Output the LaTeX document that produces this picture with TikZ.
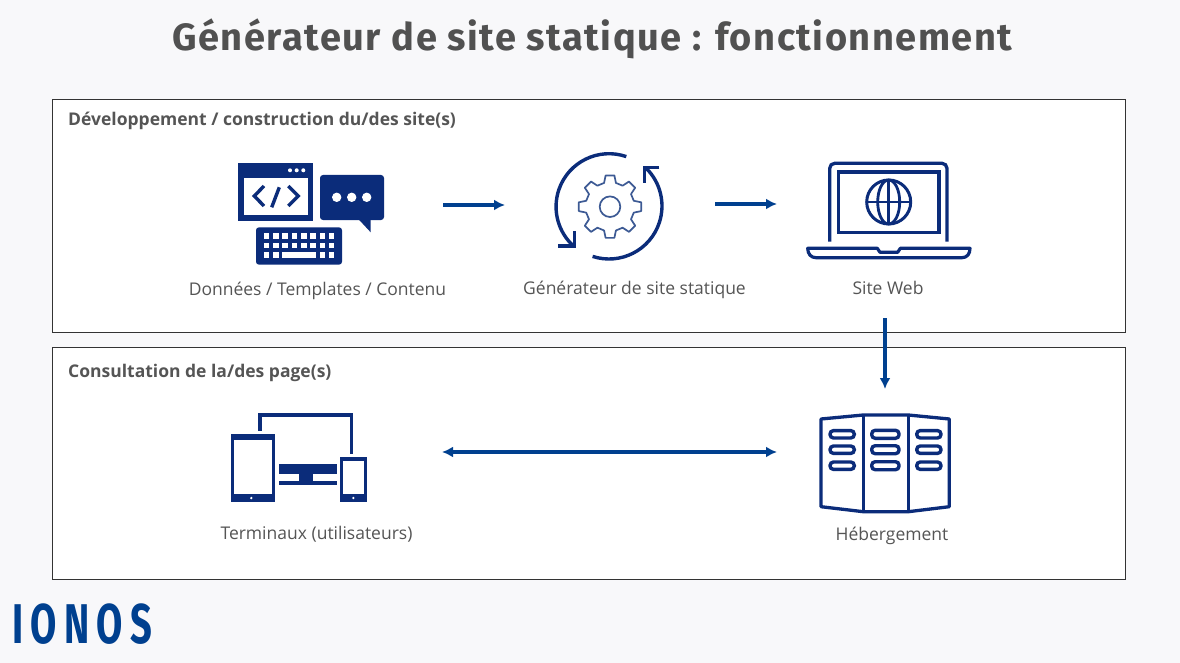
\documentclass[tikz,border=0pt]{standalone}
\usepackage{fontspec}
\setmainfont{Open Sans}
\newfontfamily\titlefont[LetterSpace=4]{Fira Sans}
\newfontfamily\logofont[FakeStretch=0.68,LetterSpace=13]{Fira Sans}
\usetikzlibrary{arrows.meta}
\definecolor{pagebg}{HTML}{F8F8FA}
\definecolor{iconblue}{HTML}{0B2C7A}
\definecolor{gearblue}{HTML}{3D5A94}
\definecolor{flowblue}{HTML}{00408F}
\definecolor{textgray}{HTML}{555555}

\begin{document}
\begin{tikzpicture}[x=1pt, y=-1pt,
  panel/.style={draw=black!80, line width=.8pt, fill=white},
  flow/.style={draw=flowblue, line width=3.3pt, >={Latex[length=11pt,width=11pt]}},
  heading/.style={anchor=base west, inner sep=0pt, text=textgray, font=\fontsize{17.5}{20}\selectfont\bfseries},
  caption/.style={anchor=base, inner sep=0pt, text=textgray, font=\fontsize{17.5}{20}\selectfont},
  solid icon/.style={fill=iconblue},
  line icon/.style={draw=iconblue, line width=3.3pt}]

% Draw the page and the two panels
\fill[pagebg] (0,0) rectangle (1180,663);
\useasboundingbox (0,0) rectangle (1180,663);
\draw[panel] (52.5,99.5) rectangle (1125.5,332.5);
\draw[panel] (52.5,347.5) rectangle (1125.5,579.5);

% Place the title and the headings
\node[anchor=base, inner sep=0pt, text=textgray!95!black, font=\fontsize{38}{42}\titlefont\bfseries] (title) at (592.5,51) {Générateur de site statique : fonctionnement};
\node[heading] (devHead) at (68,125.7) {Développement / construction du/des site(s)};
\node[heading] (viewHead) at (68,377) {Consultation de la/des page(s)};

% Draw the code window
\fill[solid icon] (238.3,163.3) rectangle (313.3,220.7);
\fill[white] (244,177.7) rectangle (308,215.3);
\foreach \x in {290,296.7,303.3} \fill[white] (\x,170.3) circle (2);
\draw[iconblue, line width=3.4pt] (264,186) -- (254.3,196) -- (264,206);
\draw[iconblue, line width=3.4pt] (279.3,187.3) -- (271.7,207.3);
\draw[iconblue, line width=3.4pt] (288.3,186) -- (298.3,196) -- (288.3,206);

% Draw the speech bubble
\fill[solid icon, rounded corners=3pt] (320,175) rectangle (384,220);
\fill[solid icon] (358.3,219) -- (370.7,232.3) -- (370.7,219) -- cycle;
\foreach \x in {336.7,351.7,366.7} \fill[white] (\x,197.3) circle (4.7);

% Draw the keyboard
\fill[solid icon, rounded corners=3pt] (256,227.3) rectangle (342,264.7);
\foreach \y in {233.3,242.7} \foreach \c in {0,...,7}
  \fill[white] (263.7+\c*9.3,\y) rectangle +(5.6,5.6);
\foreach \c in {0,1,6,7} \fill[white] (263.7+\c*9.3,252) rectangle +(5.6,5.6);
\fill[white] (282.3,252) rectangle (315.6,257.6);

% Draw the gear and the two round arrows
\begin{scope}[shift={(610,206.7)}]
\draw[gearblue, line width=1.7pt, line join=round] (-14:24.5)
  \foreach \a in {0,45,...,315} { -- (\a-8:31.5) -- (\a+8:31.5) -- (\a+14:24.5) -- (\a+31:24.5) } -- cycle;
\draw[gearblue, line width=1.7pt] (0,0) circle (10.3);
\end{scope}
\draw[iconblue, line width=3.4pt] (626.3,156.6) arc (-71:-229:53);
\draw[iconblue, line width=3.4pt] (558.3,246) -- (574.3,246) -- (574.3,231);
\draw[iconblue, line width=3.4pt] (592.6,256.4) arc (-252:-405:53);
\draw[iconblue, line width=3.4pt] (659.3,167.7) -- (644.3,167.7) -- (644.3,182.7);

% Draw the laptop
\draw[line icon, rounded corners=5pt] (829.7,241.7) -- (829.7,163.3) -- (947,163.3) -- (947,241.7);
\draw[line icon] (838.3,172) rectangle (939,232.7);
\draw[iconblue, line width=3pt] (888.7,202) circle (22);
\draw[iconblue, line width=2.8pt] (888.7,202) ellipse (11 and 22);
\draw[iconblue, line width=2.8pt] (866.7,202) -- (910.7,202);
\draw[iconblue, line width=2.8pt] (888.7,180) -- (888.7,224);
\draw[iconblue, line width=3.2pt, line join=round]
  (807.7,248.3) -- (877.3,248.3) -- (880,252.3) -- (897.7,252.3) -- (900.3,248.3) -- (970,248.3)
  .. controls (970,254) and (967,257.7) .. (962,257.7) -- (816,257.7)
  .. controls (811,257.7) and (807.7,254) .. (807.7,248.3) -- cycle;

% Draw the tablet, the monitor and the phone
\draw[line icon] (260,430.7) -- (260,415) -- (351.7,415) -- (351.7,454.3);
\fill[solid icon] (231,434) rectangle (275.3,501.7);
\fill[white] (234.3,440.3) rectangle (272,494);
\fill[white] (251.3,498) circle (1.3);
\fill[solid icon] (278.7,464) rectangle (336.7,474.3);
\fill[solid icon] (299.3,474) rectangle (312.7,482);
\fill[solid icon] (278.7,481.3) rectangle (336.7,484.7);
\fill[solid icon] (340,457.3) rectangle (366.7,501.7);
\fill[white] (343,460.7) rectangle (363.7,494.3);
\fill[white] (353.3,498) circle (1.3);

% Draw the server
\draw[iconblue, line width=3.3pt, line join=round]
  (821,419) -- (863.3,415) -- (908.3,415) -- (949.3,419) -- (949.3,506.7)
  -- (908.3,511.7) -- (863.3,511.7) -- (821,506.7) -- cycle;
\draw[iconblue, line width=3.6pt] (863.3,415) -- (863.3,511.7);
\draw[iconblue, line width=3.6pt] (908.3,415) -- (908.3,511.7);
\foreach \y in {434.3,449.7,465.7} {
  \draw[iconblue, line width=3.4pt, rounded corners=3.5pt] (830,\y-3.7) rectangle (854.3,\y+3.7);
  \draw[iconblue, line width=3.4pt, rounded corners=3.5pt] (871.7,\y-4) rectangle (899,\y+4);
  \draw[iconblue, line width=3.4pt, rounded corners=3.5pt] (916.7,\y-3.7) rectangle (941,\y+3.7);
}

% Place the captions
\node[caption] (dataLabel) at (317.5,295) {Données / Templates / Contenu};
\node[caption] (genLabel) at (634.5,294) {Générateur de site statique};
\node[caption] (siteLabel) at (888,294) {Site Web};
\node[caption] (deviceLabel) at (316.5,539) {Terminaux (utilisateurs)};
\node[caption] (hostLabel) at (892,540) {Hébergement};

% Define the arrow ends and draw the arrows
\coordinate (dataOut) at (443,205);
\coordinate (genIn) at (505,205);
\coordinate (genOut) at (715,204);
\coordinate (siteIn) at (777,204);
\coordinate (siteOut) at (885,318);
\coordinate (hostIn) at (885,389);
\coordinate (deviceEnd) at (442,452);
\coordinate (hostEnd) at (777,452);
\draw[flow, ->] (dataOut) -- (genIn);
\draw[flow, ->] (genOut) -- (siteIn);
\draw[flow, ->] (siteOut) -- (hostIn);
\draw[flow, <->] (deviceEnd) -- (hostEnd);

% Place the logo
\node[anchor=base west, inner sep=0pt, text=flowblue, font=\fontsize{56}{60}\logofont\bfseries] (logo) at (12,643) {IONOS};

\end{tikzpicture}
\end{document}
